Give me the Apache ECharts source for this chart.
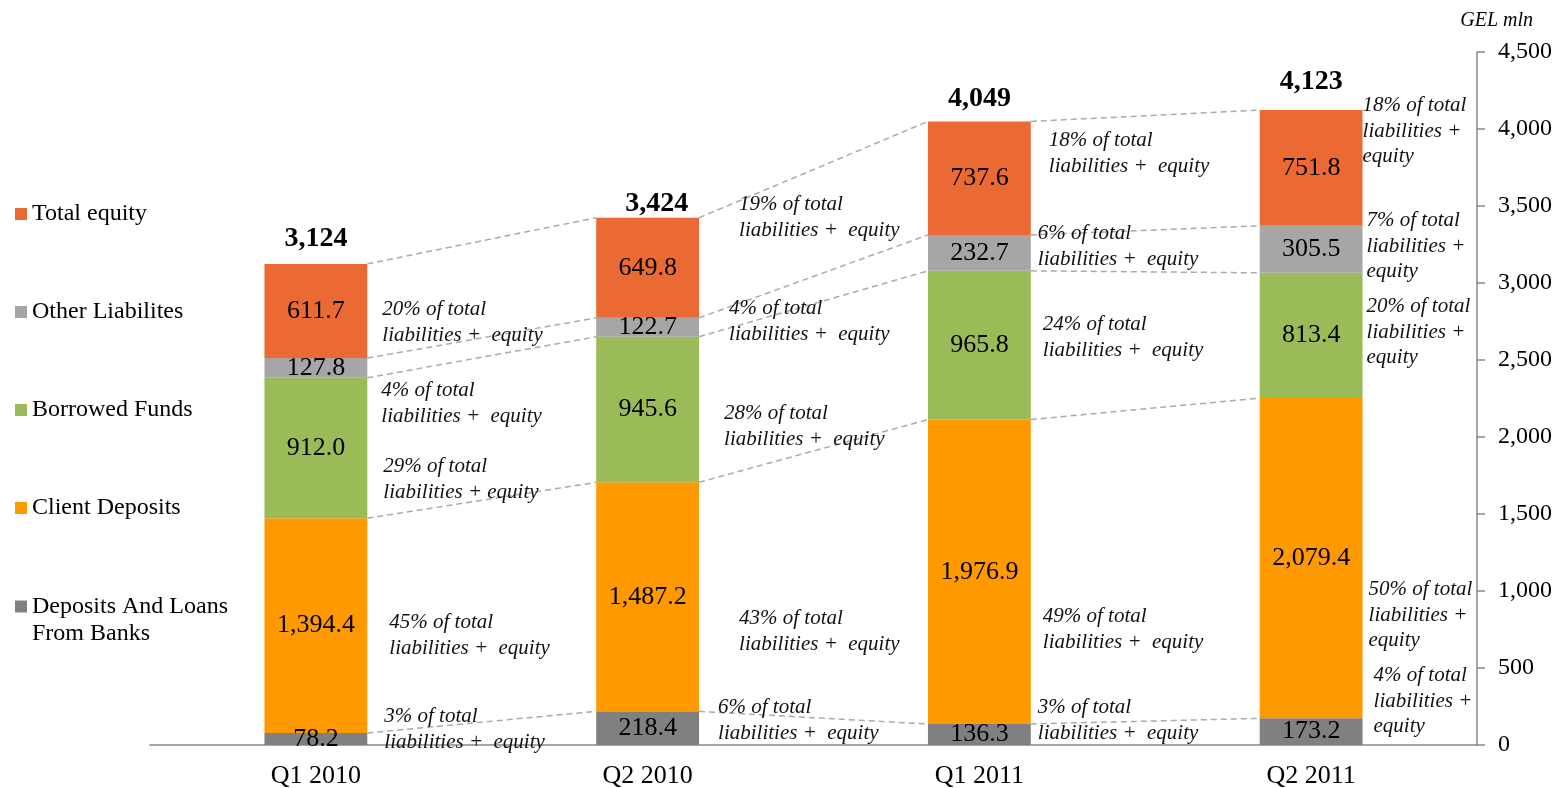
<!DOCTYPE html>
<html>
<head>
<meta charset="utf-8">
<title>Liabilities and equity</title>
<script src="https://cdn.jsdelivr.net/npm/echarts@6/dist/echarts.min.js"></script>
<style>
  html, body { margin: 0; padding: 0; background: #fff; }
  #chart { width: 1563px; height: 788px; }
</style>
</head>
<body>
<div id="chart"></div>
<script>
// data (GEL mln)
const categories = ['Q1 2010', 'Q2 2010', 'Q1 2011', 'Q2 2011'];
const banksLoans = [78.2, 218.4, 136.3, 173.2];
const clientDeposits = [1394.4, 1487.2, 1976.9, 2079.4];
const borrowedFunds = [912.0, 945.6, 965.8, 813.4];
const otherLiabilities = [127.8, 122.7, 232.7, 305.5];
const totalEquity = [611.7, 649.8, 737.6, 751.8];
const totalLabels = ['3,124', '3,424', '4,049', '4,123'];
const yTickMin = 0;
const yTickMax = 4500;
const yTickStep = 500;
// share of total liabilities + equity, bottom segment first
const shareLabels = [
  ['3%', '45%', '29%', '4%', '20%'],
  ['6%', '43%', '28%', '4%', '19%'],
  ['3%', '49%', '24%', '6%', '18%'],
  ['4%', '50%', '20%', '7%', '18%']
];

// layout of the notes: level of first line (axis units) and gap from bar edge (px)
const noteLevel = [
  [182, 792, 1805, 2299, 2825],
  [240, 818, 2150, 2831, 3507],
  [240, 831, 2727, 3318, 3922],
  [448, 1007, 2844, 3403, 4150]
];
const noteGap = [
  [17, 22, 16, 14, 15],
  [19, 40, 25, 30, 40],
  [7, 12, 12, 7, 18],
  [11, 6, 4, 4, 0]
];
// small nudges of the totals (px), as placed in the original
const totalNudge = [[0, 1], [9, 12], [0, 3], [0, -2]];

const BAR_RATIO = 0.31;
const FONT = '"Liberation Serif", "Times New Roman", serif';
const AXIS_COLOR = '#898989';
const BANKS = 'Deposits And Loans From Banks';

const seriesDefs = [
  { name: BANKS, data: banksLoans, color: '#808080' },
  { name: 'Client Deposits', data: clientDeposits, color: '#FF9900' },
  { name: 'Borrowed Funds', data: borrowedFunds, color: '#9BBB59' },
  { name: 'Other Liabilites', data: otherLiabilities, color: '#A6A6A6' },
  { name: 'Total equity', data: totalEquity, color: '#EB6A34' }
];

// stack boundaries, used by the dashed connectors
const levels = [];
let run = categories.map(() => 0);
seriesDefs.forEach(s => {
  run = run.map((v, i) => v + s.data[i]);
  levels.push(run.slice());
});
const connectorData = [];
for (let i = 0; i < categories.length - 1; i++) {
  levels.forEach(lv => connectorData.push([i, lv[i], lv[i + 1]]));
}

const noteData = [];
categories.forEach((c, i) => {
  shareLabels[i].forEach((s, k) => {
    const last = i === categories.length - 1;
    let rest = last ? 'liabilities +\nequity' : 'liabilities +  equity';
    if (i === 0 && k === 2) rest = 'liabilities + equity';
    noteData.push([i, noteLevel[i][k], s + ' of total\n' + rest, noteGap[i][k]]);
  });
});

const totalData = categories.map((c, i) => [i, levels[levels.length - 1][i], totalLabels[i]]);

const fmt = v => v.toLocaleString('en-US', { minimumFractionDigits: 1, maximumFractionDigits: 1 });

const chart = echarts.init(document.getElementById('chart'));

const legendBase = {
  orient: 'vertical',
  left: 10,
  itemWidth: 12,
  itemHeight: 12,
  icon: 'rect',
  selectedMode: false,
  textStyle: { fontFamily: FONT, fontSize: 24, color: '#000' }
};

const option = {
  animation: false,
  textStyle: { fontFamily: FONT },
  title: {
    text: 'GEL mln',
    right: 25,
    top: 6,
    textStyle: { fontFamily: FONT, fontStyle: 'italic', fontWeight: 'normal', fontSize: 20, color: '#000' }
  },
  legend: [
    Object.assign({}, legendBase, {
      top: 197,
      itemGap: 74,
      data: ['Total equity', 'Other Liabilites', 'Borrowed Funds', 'Client Deposits']
    }),
    Object.assign({}, legendBase, {
      // empty first line keeps the icon level with the first text line
      top: 561,
      formatter: () => '\nDeposits And Loans\nFrom Banks',
      textStyle: Object.assign({}, legendBase.textStyle, { lineHeight: 27 }),
      data: [BANKS]
    })
  ],
  grid: { left: 150, right: 86, top: 52, bottom: 43, outerBoundsMode: 'none' },
  xAxis: {
    type: 'category',
    data: categories,
    axisLine: { lineStyle: { color: AXIS_COLOR, width: 1.5 } },
    axisTick: { length: 8, lineStyle: { color: AXIS_COLOR, width: 1.5 } },
    axisLabel: { color: '#000', fontFamily: FONT, fontSize: 26, margin: 18 }
  },
  yAxis: {
    type: 'value',
    position: 'right',
    min: yTickMin,
    max: yTickMax,
    interval: yTickStep,
    splitLine: { show: false },
    axisLine: { show: true, lineStyle: { color: AXIS_COLOR, width: 1.5 } },
    axisTick: { show: true, length: 8, lineStyle: { color: AXIS_COLOR, width: 1.5 } },
    axisLabel: {
      color: '#000', fontFamily: FONT, fontSize: 24, margin: 21,
      formatter: v => v.toLocaleString('en-US')
    }
  },
  series: seriesDefs.map(s => ({
    name: s.name,
    type: 'bar',
    stack: 'total',
    barWidth: (BAR_RATIO * 100) + '%',
    silent: true,
    itemStyle: { color: s.color },
    label: {
      show: true,
      position: 'inside',
      color: '#000',
      fontFamily: FONT,
      fontSize: 26,
      formatter: p => fmt(p.value)
    },
    data: s.data
  })).concat([
    {
      // dashed lines joining the stack boundaries of neighbouring bars
      type: 'custom',
      silent: true,
      z: 1,
      encode: { x: 0, y: [1, 2] },
      data: connectorData,
      renderItem (params, api) {
        const i = api.value(0);
        const half = api.size([1, 0])[0] * BAR_RATIO / 2;
        const p0 = api.coord([i, api.value(1)]);
        const p1 = api.coord([i + 1, api.value(2)]);
        return {
          type: 'line',
          shape: { x1: p0[0] + half, y1: p0[1], x2: p1[0] - half, y2: p1[1] },
          style: { stroke: '#AAAAAA', lineWidth: 1.5, lineDash: [6, 4] }
        };
      }
    },
    {
      // share notes to the right of each bar
      type: 'custom',
      silent: true,
      z: 3,
      encode: { x: 0, y: 1 },
      data: noteData,
      renderItem (params, api) {
        const item = noteData[params.dataIndex];
        const half = api.size([1, 0])[0] * BAR_RATIO / 2;
        const p = api.coord([item[0], item[1]]);
        return {
          type: 'text',
          style: {
            x: p[0] + half + item[3],
            y: p[1] - 13,
            text: item[2],
            fill: '#111',
            font: 'italic 21px ' + FONT,
            lineHeight: 25.5,
            align: 'left',
            verticalAlign: 'top'
          }
        };
      }
    },
    {
      // bold totals above the bars
      type: 'custom',
      silent: true,
      z: 3,
      encode: { x: 0, y: 1 },
      data: totalData,
      renderItem (params, api) {
        const idx = params.dataIndex;
        const item = totalData[idx];
        const p = api.coord([item[0], item[1]]);
        return {
          type: 'text',
          style: {
            x: p[0] + totalNudge[idx][0],
            y: p[1] - 12 + totalNudge[idx][1],
            text: item[2],
            fill: '#000',
            font: 'bold 28px ' + FONT,
            align: 'center',
            verticalAlign: 'bottom'
          }
        };
      }
    }
  ])
};

chart.setOption(option);
</script>
</body>
</html>
